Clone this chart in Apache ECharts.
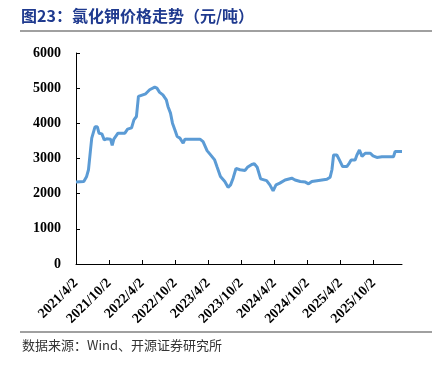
<!DOCTYPE html>
<html>
<head>
<meta charset="utf-8">
<script src="https://cdn.jsdelivr.net/npm/echarts@6/dist/echarts.min.js"></script>
<style>
  html, body { margin: 0; padding: 0; background: #fff; }
  #main { width: 440px; height: 365px; }
</style>
</head>
<body>
<div id="main"></div>
<script>
// 氯化钾价格 (元/吨)
const dates = [
  '2021/4/2', '2021/5/15', '2021/5/30', '2021/6/10', '2021/6/21', '2021/6/28', '2021/7/5', '2021/7/16',
  '2021/7/29', '2021/8/7', '2021/8/23', '2021/9/5', '2021/9/18', '2021/10/10', '2021/10/19', '2021/10/28',
  '2021/11/20', '2021/12/28', '2022/1/12', '2022/2/3', '2022/2/16', '2022/3/2', '2022/3/13', '2022/3/24',
  '2022/4/22', '2022/5/14', '2022/6/11', '2022/6/23', '2022/7/8', '2022/7/26', '2022/8/14', '2022/8/23',
  '2022/9/6', '2022/9/17', '2022/9/30', '2022/10/13', '2022/10/28', '2022/11/15', '2022/11/25', '2023/2/16',
  '2023/3/5', '2023/3/27', '2023/4/20', '2023/5/8', '2023/5/22', '2023/6/9', '2023/7/3', '2023/7/21',
  '2023/8/4', '2023/8/18', '2023/9/3', '2023/9/25', '2023/10/23', '2023/11/5', '2023/11/29', '2023/12/13',
  '2023/12/29', '2024/1/17', '2024/2/19', '2024/3/8', '2024/3/26', '2024/4/11', '2024/5/2', '2024/5/31',
  '2024/7/7', '2024/7/25', '2024/8/23', '2024/9/20', '2024/10/8', '2024/10/26', '2024/11/23', '2024/12/2',
  '2025/1/17', '2025/2/4', '2025/2/14', '2025/2/23', '2025/3/13', '2025/3/27', '2025/4/14', '2025/5/7',
  '2025/5/21', '2025/5/31', '2025/6/22', '2025/7/2', '2025/7/16', '2025/7/30', '2025/8/17', '2025/9/14',
  '2025/9/29', '2025/10/20', '2025/11/17', '2026/1/20', '2026/1/29', '2026/3/8'
]
const prices = [
  2330, 2345, 2480, 2680, 3240, 3580, 3630, 3900,
  3900, 3720, 3700, 3530, 3560, 3550, 3370, 3550,
  3720, 3720, 3835, 3870, 4100, 4195, 4765, 4715,
  4840, 4955, 5030, 5000, 4880, 4810, 4670, 4480,
  4290, 4005, 3815, 3625, 3580, 3435, 3550, 3550,
  3480, 3225, 3075, 2960, 2750, 2485, 2345, 2180,
  2250, 2440, 2720, 2680, 2660, 2750, 2830, 2850,
  2750, 2420, 2370, 2250, 2080, 2250, 2300, 2390,
  2440, 2390, 2345, 2330, 2280, 2345, 2370, 2410,
  2410, 2470, 2680, 3100, 3100, 2960, 2770, 2770,
  2870, 2960, 2960, 3100, 3240, 3060, 3150, 3150,
  3075, 3030, 3050, 3050, 3200, 3200
]
const tickLabels = [
  '2021/4/2', '2021/10/2', '2022/4/2', '2022/10/2', '2023/4/2',
  '2023/10/2', '2024/4/2', '2024/10/2', '2025/4/2', '2025/10/2'
]
const axisEnd = '2026/3/8'

// 日期 -> 距起点天数
const toDay = s => {
  const [y, m, d] = s.split('/').map(Number)
  return Math.round((Date.UTC(y, m - 1, d) - Date.UTC(2021, 3, 2)) / 86400000)
}
const tickDays = tickLabels.map(toDay)

const chart = echarts.init(document.getElementById('main'))
const serif = 'Liberation Serif'

chart.setOption({
  animation: false,
  grid: { left: 76, right: 38, top: 53, bottom: 101, outerBoundsMode: 'none', containLabel: false },
  xAxis: {
    type: 'value',
    min: 0,
    max: toDay(axisEnd),
    splitLine: { show: false },
    axisLine: { show: true, lineStyle: { color: '#000', width: 1 } },
    axisTick: { show: true, inside: true, length: 4, customValues: tickDays, lineStyle: { color: '#000' } },
    axisLabel: {
      customValues: tickDays,
      rotate: 45,
      margin: 17,
      color: '#000',
      fontFamily: serif,
      fontWeight: 'bold',
      fontSize: 14,
      formatter: v => tickLabels[tickDays.indexOf(v)] || ''
    }
  },
  yAxis: {
    type: 'value',
    min: 0,
    max: 6000,
    interval: 1000,
    splitLine: { show: false },
    axisLine: { show: true, lineStyle: { color: '#000', width: 1 } },
    axisTick: { show: true, inside: true, length: 4, lineStyle: { color: '#000' } },
    axisLabel: {
      color: '#000', fontFamily: serif, fontWeight: 'bold', fontSize: 14, margin: 15,
      formatter: v => String(v)
    }
  },
  series: [{
    type: 'line',
    showSymbol: false,
    data: dates.map((d, i) => [toDay(d), prices[i]]),
    lineStyle: { color: '#5B9BD5', width: 3 },
    itemStyle: { color: '#5B9BD5' }
  }],
  graphic: [
    {
      type: 'text', left: 21, top: 8,
      style: { text: '图23：氯化钾价格走势（元/吨）', fill: '#1f3a8f', font: 'bold 16px "Noto Sans CJK SC"' }
    },
    { type: 'line', shape: { x1: 20, y1: 31, x2: 432, y2: 31 }, style: { stroke: '#808080', lineWidth: 1.5 } },
    { type: 'line', shape: { x1: 20, y1: 332, x2: 432, y2: 332 }, style: { stroke: '#808080', lineWidth: 1.5 } },
    {
      type: 'text', left: 22, top: 339,
      style: { text: '数据来源：Wind、开源证券研究所', fill: '#333', font: '13px "Noto Sans CJK SC"' }
    }
  ]
})
</script>
</body>
</html>
